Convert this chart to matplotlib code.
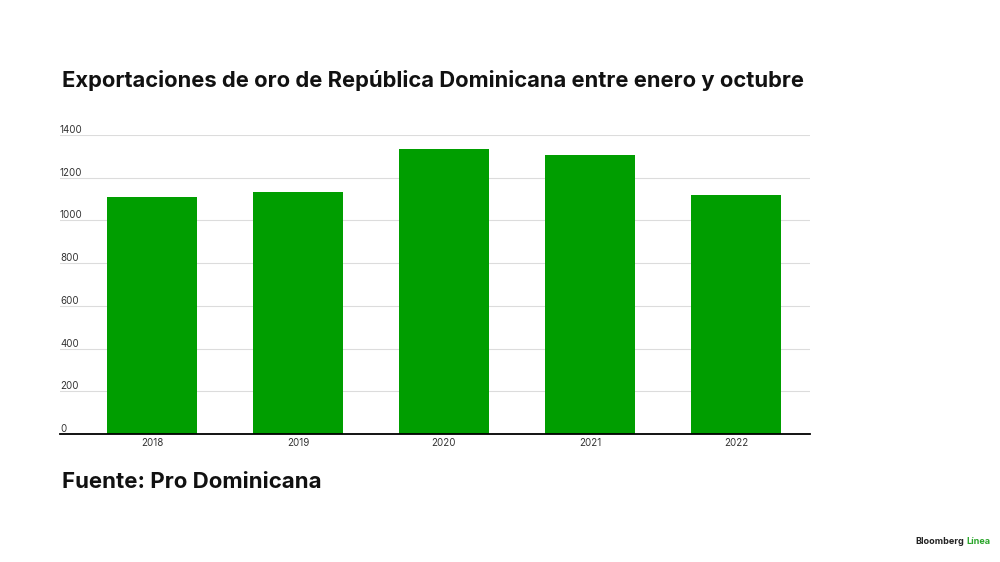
import matplotlib.pyplot as plt
import matplotlib.transforms as mtransforms

years = ["2018", "2019", "2020", "2021", "2022"]
exports = [1112, 1133, 1334, 1306, 1119]
y_ticks = [0, 200, 400, 600, 800, 1000, 1200, 1400]

title = "Exportaciones de oro de República Dominicana entre enero y octubre"
source = "Fuente: Pro Dominicana"

green = "#009e00"

plt.rcParams["font.family"] = ["Inter", "DejaVu Sans"]

fig = plt.figure(figsize=(10, 5.62), dpi=100)
ax = fig.add_axes([0.06, (562 - 434) / 562, 0.75, (434 - 135) / 562])

x = range(len(years))
ax.bar(x, exports, width=0.616, color=green, zorder=2)
ax.set_xlim(-0.63, 4.507)
ax.set_ylim(0, 1400)

# gridlines and y labels sitting above each line
for v in y_ticks[1:]:
    ax.axhline(v, color="#dcdcdc", lw=0.8, zorder=1)
lab_tr = mtransforms.blended_transform_factory(ax.transAxes, ax.transData)
for v in y_ticks:
    ax.text(0.0, v, str(v), transform=lab_tr,
            ha="left", va="bottom", fontsize=7, color="#333333")
ax.set_yticks([])

ax.set_xticks(list(x))
ax.set_xticklabels(years, fontsize=7, color="#333333")
ax.tick_params(axis="x", length=0, pad=3)

for s in ["top", "right", "left"]:
    ax.spines[s].set_visible(False)
ax.spines["bottom"].set_color("black")
ax.spines["bottom"].set_linewidth(1.3)
ax.spines["bottom"].set_zorder(3)

fig.text(0.062, 1 - 87 / 562, title, fontsize=15.8, fontweight="bold", color="#111111",
         ha="left", va="baseline")
fig.text(0.062, 1 - 488 / 562, source, fontsize=16, fontweight="bold", color="#111111",
         ha="left", va="baseline")

t1 = fig.text(0.915, 1 - 544 / 562, "Bloomberg", fontsize=6.5, fontweight="bold",
              color="#222222", ha="left", va="baseline")
fig.canvas.draw()
bb = t1.get_window_extent()
fig.text(bb.x1 / 1000 + 0.003, 1 - 544 / 562, "Línea", fontsize=6.5, fontweight="bold",
         color="#2aa52a", ha="left", va="baseline")

fig.savefig("out.png", dpi=100)
